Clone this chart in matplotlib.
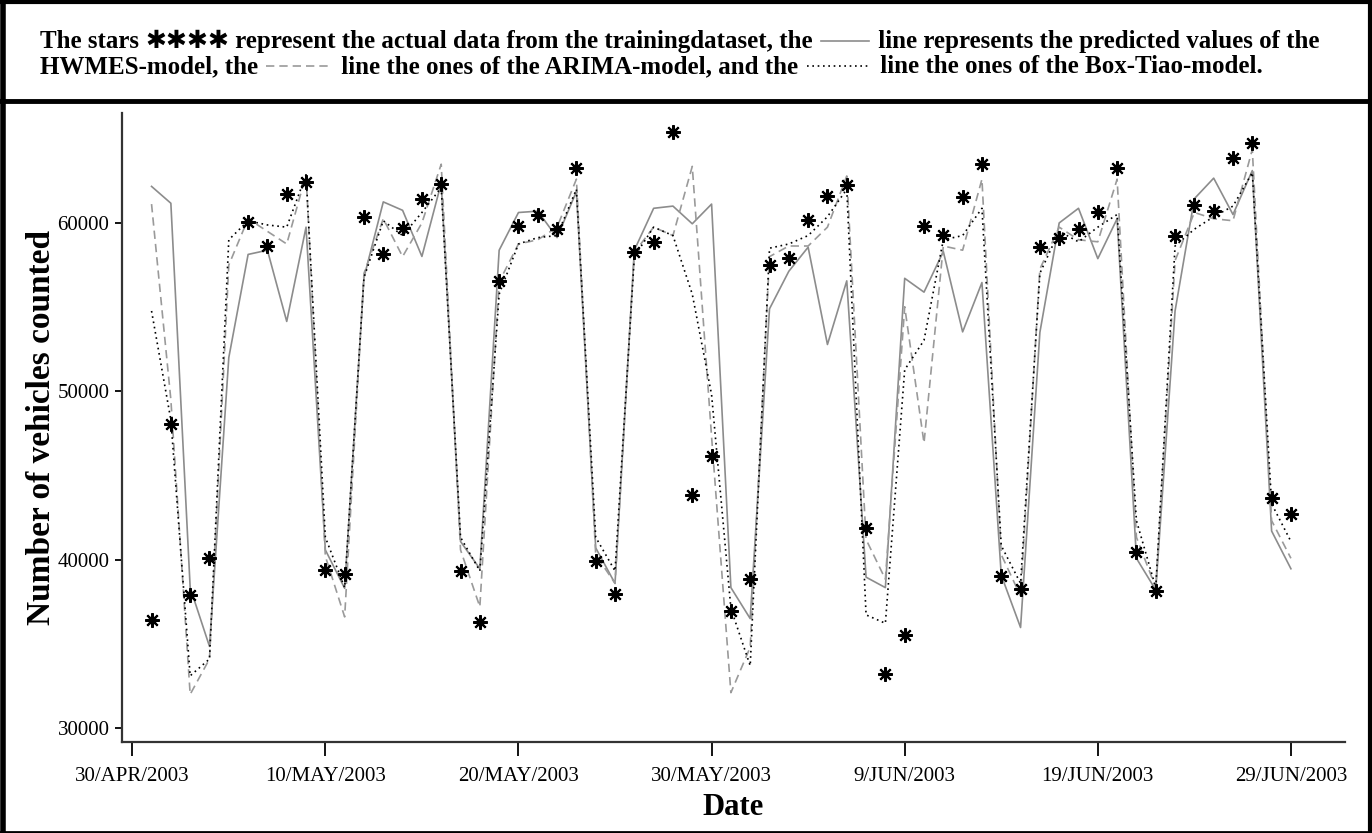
import numpy as np
import pandas as pd
import matplotlib
matplotlib.use("Agg")
import matplotlib.pyplot as plt
from matplotlib.lines import Line2D
from matplotlib.ticker import FuncFormatter
import matplotlib.dates as mdates

nan = np.nan
dates = pd.date_range("2003-05-01", periods=60, freq="D")
tick_dates = pd.date_range("2003-04-30", periods=7, freq="10D")
y_ticks = [30000, 40000, 50000, 60000]

actual = [36400, 48050, 37900, 40080, nan, 60075, 58630, 61740, 62440, 39410,
          39130, 60370, 58130, 59700, 61420, 62290, 39330, 36300, 56560, 59800,
          60500, 59630, 63290, 39910, 37960, 58260, 58880, 65400, 43870, 46180,
          36970, 38840, 57510, 57930, 60170, 61620, 62240, 41900, 33230, 35550,
          59830, 59300, 61540, 63490, 39030, 38260, 58560, 59080, 59630, 60670,
          63290, 40450, 38140, 59250, 61050, 60700, 63860, 64730, 43690, 42700]

hwmes = [62170, 61170, 38340, 34850, 52000, 58130, 58380, 54150, 59750, 40580,
         38300, 56760, 61250, 60750, 58010, 62370, 41080, 39460, 58380, 60620,
         60700, 59130, 61870, 40700, 38590, 58380, 60870, 61000, 59950, 61120,
         38340, 36500, 54900, 57130, 58560, 52780, 56560, 38960, 38340, 56710,
         55890, 58300, 53530, 56460, 39080, 35970, 53500, 60000, 60870, 57880,
         60250, 40080, 38200, 54770, 61440, 62660, 60500, 63110, 41700, 39460]

arima = [61120, 49500, 32000, 34100, 57500, 60250, 59500, 58750, 62860, 40200,
         36600, 57000, 60250, 58000, 60000, 63490, 40580, 37200, 56500, 58750,
         59000, 59750, 62600, 40300, 38590, 58250, 59750, 59250, 63360, 47300,
         32100, 34800, 58000, 58630, 58630, 59750, 62790, 41200, 38840, 55020,
         46930, 58630, 58380, 62600, 40300, 37840, 57260, 59750, 59000, 58880,
         62600, 41330, 38340, 57760, 60620, 60250, 60130, 64360, 42320, 40080]

boxtiao = [54770, 48300, 33100, 34100, 59000, 60130, 59880, 59750, 62860, 41330,
           38340, 56760, 60130, 59250, 60620, 62100, 41330, 39330, 55770, 58750,
           59130, 59250, 62000, 41330, 39330, 58000, 59750, 59250, 55770, 49800,
           37100, 33700, 58500, 58750, 59250, 60370, 62000, 36720, 36220, 51280,
           53030, 59000, 59250, 60870, 40830, 38590, 57010, 59500, 58880, 59750,
           60500, 42320, 38340, 58630, 59630, 60370, 61000, 62990, 43320, 41080]

title_line1 = ["The stars ", "\u2731\u2731\u2731\u2731", " represent the actual data from the trainingdataset, the ",
               "SOLID", " line represents the predicted values of the"]
title_line2 = ["HWMES-model, the ", "DASHED", " line the ones of the ARIMA-model, and the ",
               "DOTTED", " line the ones of the Box-Tiao-model."]

W, H = 1372, 833
fig = plt.figure(figsize=(W / 100, H / 100), dpi=100)
serif = ["Liberation Serif", "DejaVu Serif", "DejaVu Sans"]

ax = fig.add_axes([122 / W, 1 - 742 / H, (1345 - 122) / W, (742 - 113) / H])

solid_style = dict(color="#8c8c8c", lw=1.2, linestyle="-")
dash_style = dict(color="#9a9a9a", lw=1.2, linestyle=(0, (5, 3)))
dot_style = dict(color="black", lw=1.2, linestyle=(0, (1, 2.2)))

ax.plot(dates, hwmes, **solid_style, zorder=2)
ax.plot(dates, arima, **dash_style, zorder=2)
ax.plot(dates, boxtiao, **dot_style, zorder=3)
ax.plot(dates, actual, linestyle="none", marker=(8, 2, 0), markersize=10.5,
        markeredgewidth=1.5, color="black", zorder=4)
ax.plot(dates, actual, linestyle="none", marker="o", markersize=5,
        color="black", zorder=5)

base = pd.Timestamp("2003-04-30")
ax.set_xlim(base - pd.Timedelta(days=0.53), base + pd.Timedelta(days=62.8))
ax.set_ylim(29170, 66530)
ax.set_xticks(tick_dates)
ax.xaxis.set_major_formatter(FuncFormatter(
    lambda v, p: (lambda d: f"{d.day}/{d.strftime('%b').upper()}/{d.year}")(mdates.num2date(v))))
ax.set_yticks(y_ticks)
ax.yaxis.set_major_formatter(FuncFormatter(lambda v, p: f"{int(v)}"))
for s in ["top", "right"]:
    ax.spines[s].set_visible(False)
for s in ["left", "bottom"]:
    ax.spines[s].set_linewidth(1.6)
    ax.spines[s].set_color("#333333")
ax.tick_params(axis="x", length=10, width=1.3, direction="out", pad=8)
ax.tick_params(axis="y", length=5, width=1.3, direction="out", pad=4)
for lab in ax.get_xticklabels() + ax.get_yticklabels():
    lab.set_family(serif)
    lab.set_fontsize(15)
ax.set_xlabel("Date", family=serif, fontsize=22, fontweight="bold", labelpad=5)
ax.set_ylabel("Number of vehicles counted", family=serif, fontsize=24,
              fontweight="bold", labelpad=0)

# frame lines
fig.add_artist(Line2D([0, 1], [1 - 101 / H, 1 - 101 / H], transform=fig.transFigure,
                      color="black", lw=3.5))
fig.add_artist(Line2D([3 / W, 3 / W], [0, 1], transform=fig.transFigure, color="black", lw=4))
fig.add_artist(Line2D([1 - 2 / W, 1 - 2 / W], [0, 1], transform=fig.transFigure, color="black", lw=3))
fig.add_artist(Line2D([0, 1], [1 - 1.5 / H, 1 - 1.5 / H], transform=fig.transFigure, color="black", lw=3))
fig.add_artist(Line2D([0, 1], [1 / H, 1 / H], transform=fig.transFigure, color="black", lw=2))

renderer = fig.canvas.get_renderer()
sample_w = {"SOLID": 50, "DASHED": 68, "DOTTED": 66}
sample_st = {"SOLID": solid_style, "DASHED": dash_style, "DOTTED": dot_style}


def write_line(pieces, x0, ybase, size=18):
    x = x0
    for p in pieces:
        if p in sample_w:
            w = sample_w[p]
            ly = ybase - 7
            fig.add_artist(Line2D([(x + 2) / W, (x + w) / W], [1 - ly / H, 1 - ly / H],
                                  transform=fig.transFigure, **sample_st[p]))
            x += w + 3
        else:
            t = fig.text(x / W, 1 - ybase / H, p, family=serif, fontsize=size,
                         fontweight="bold", ha="left", va="baseline")
            bb = t.get_window_extent(renderer)
            x = bb.x1


write_line(title_line1, 40, 48)
write_line(title_line2, 40, 73)

fig.savefig("out.png", dpi=100)
